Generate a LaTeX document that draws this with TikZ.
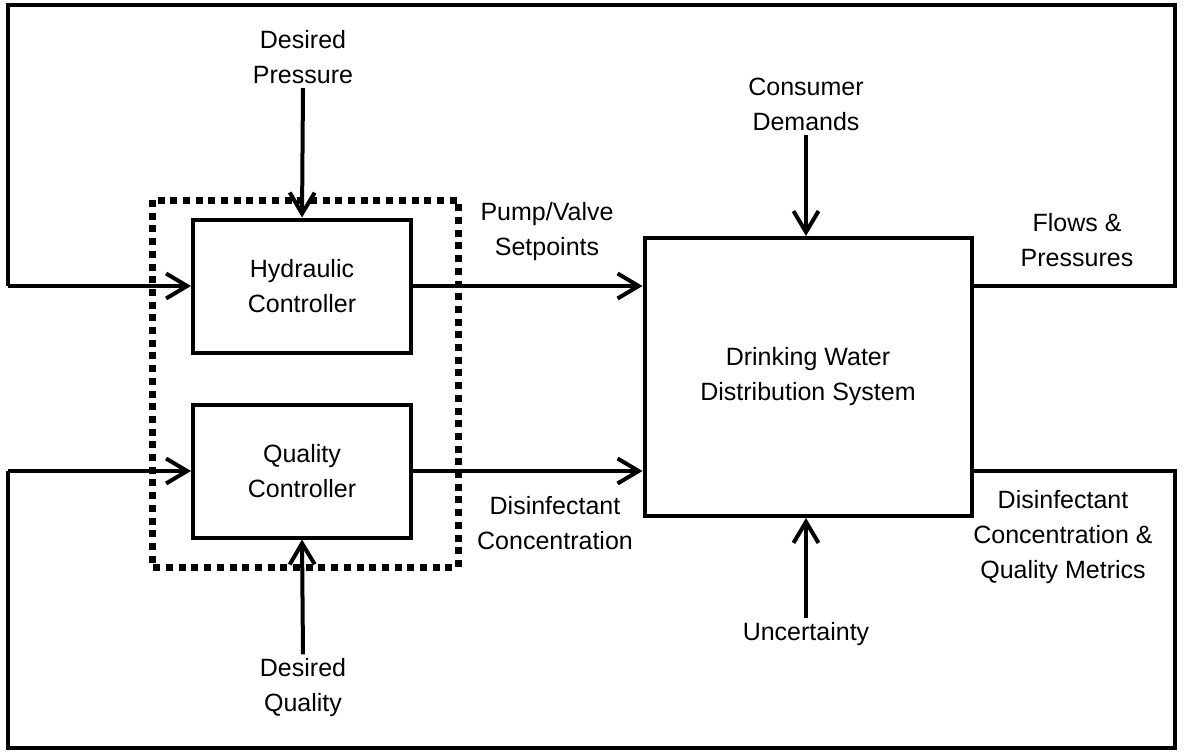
\documentclass[tikz,border=0pt]{standalone}
\usepackage{fontspec}
\setmainfont{Liberation Sans}
\usetikzlibrary{arrows.meta}
\begin{document}
\begin{tikzpicture}[x=0.5pt,y=-0.5pt,
  block/.style={draw,line width=2pt,minimum width=109pt,minimum height=66.5pt,align=center,font=\fontsize{12.5}{17.5}\selectfont},
  lbl/.style={align=center,inner sep=2pt,font=\fontsize{12.5}{17.5}\selectfont},
  sig/.style={line width=2pt,-{Straight Barb[length=10.5pt,width=12.5pt,line width=2pt]}},
  wire/.style={line width=2pt}]
\useasboundingbox (0,0) rectangle (1189,755);

% Blocks
\node[block] (hyd) at (302,286) {Hydraulic\\Controller};
\node[block] (qual) at (302,471) {Quality\\Controller};
\node[block,minimum width=163.5pt,minimum height=139pt] (dwds) at (808,377) {Drinking Water\\Distribution System};

% Controller group
\draw[line width=3.5pt,dash pattern=on 3.5pt off 2.85pt] (152,200) rectangle (458,567);

% Inputs
\node[lbl] (dpres) at (303,57) {Desired\\Pressure};
\node[lbl] (dqual) at (303,688) {Desired\\Quality};
\node[lbl] (cdem) at (806,104) {Consumer\\Demands};
\node[lbl] (unc) at (806,634) {Uncertainty};
\draw[sig] (dpres.south) -- (hyd.north);
\draw[sig] (dqual.north) -- (qual.south);
\draw[sig] (cdem.south) -- (cdem.south |- dwds.north);
\draw[sig] (unc.north) -- (unc.north |- dwds.south);

% Control signals
\draw[sig] (hyd.east) -- (hyd.east -| dwds.west);
\draw[sig] (qual.east) -- (qual.east -| dwds.west);
\node[lbl] (pvs) at (547,232) {Pump/Valve\\Setpoints};
\node[lbl] (dcon) at (555,523) {Disinfectant\\Concentration};

% Feedback loops
\coordinate (tr) at (1175,5);
\coordinate (tl) at (8,5);
\coordinate (br) at (1175,748);
\coordinate (bl) at (8,748);
\draw[wire] (dwds.east |- hyd.east) -- (tr |- hyd.east) -- (tr) -- (tl) -- (tl |- hyd.west);
\draw[sig] (tl |- hyd.west) -- (hyd.west);
\draw[wire] (dwds.east |- qual.east) -- (br |- qual.east) -- (br) -- (bl) -- (bl |- qual.west);
\draw[sig] (bl |- qual.west) -- (qual.west);
\node[lbl] (fp) at (1077,240) {Flows \&\\Pressures};
\node[lbl] (dcq) at (1063,537) {Disinfectant\\Concentration \&\\Quality Metrics};
\end{tikzpicture}
\end{document}
